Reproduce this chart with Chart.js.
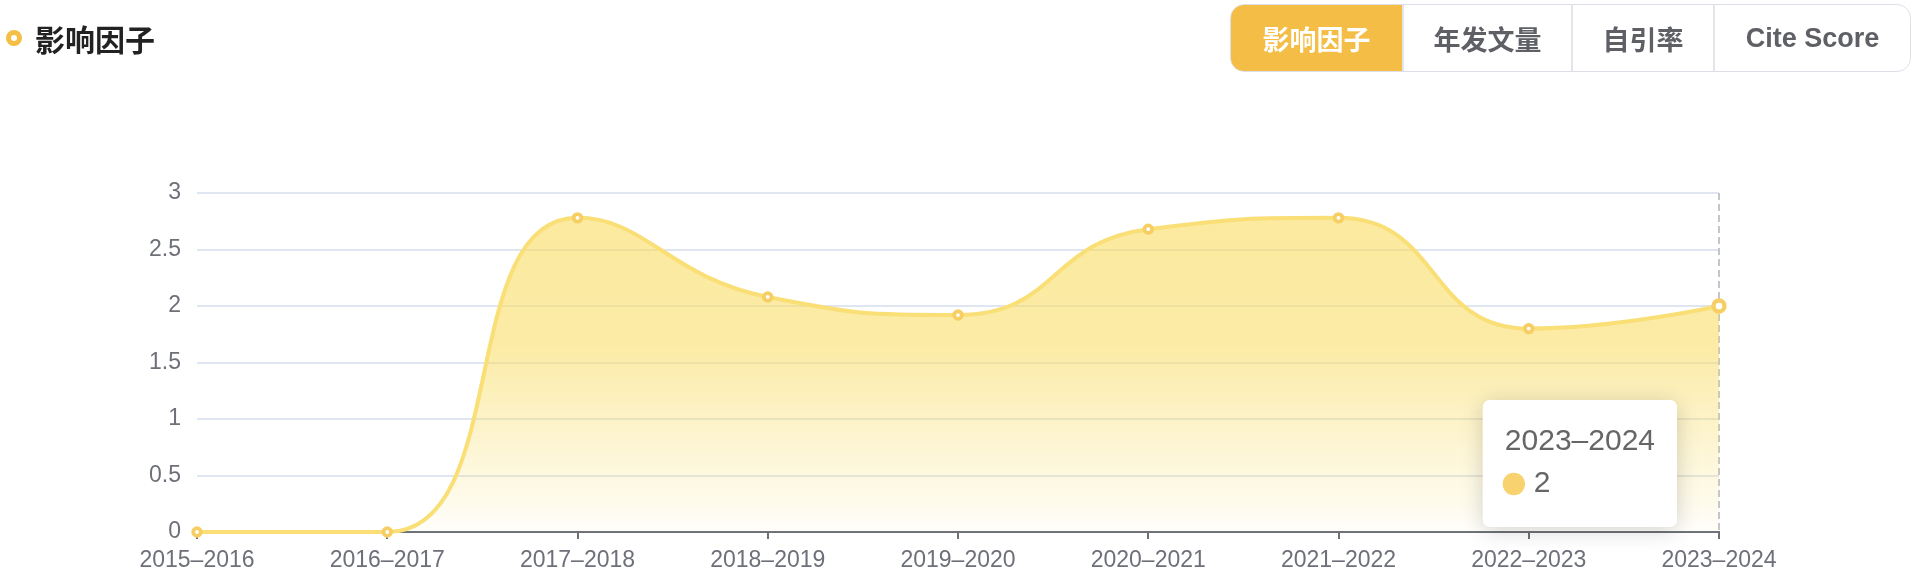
<!DOCTYPE html>
<html>
<head>
<meta charset="utf-8">
<script src="https://cdn.jsdelivr.net/npm/chart.js@4"></script>
<style>
  html, body { margin:0; padding:0; background:#fff; width:1922px; height:580px; overflow:hidden; font-family:"Liberation Sans","Noto Sans CJK SC",sans-serif; }
  #wrap { position:relative; width:1922px; height:580px; }
  #chart { position:absolute; left:0; top:0; }
  .title { position:absolute; left:6px; top:16px; height:44px; display:flex; align-items:center; font-family:"Noto Sans CJK SC",sans-serif; font-weight:700; font-size:30px; color:#222; }
  .dot { width:6px; height:6px; border:5.5px solid #F5BE45; border-radius:50%; margin-right:13px; box-sizing:content-box; background:#fff; }
  .btns { position:absolute; left:1230px; top:4px; height:66px; display:flex; border:1px solid #DCDFE6; border-radius:14px; overflow:hidden; }
  .btn { height:66px; display:flex; align-items:center; justify-content:center; font-size:27px; font-weight:600; color:#5E6066; border-left:2px solid #E3E5EA; box-sizing:border-box; font-family:"Liberation Sans","Noto Sans CJK SC",sans-serif; }
  .btn.active { background:#F4BD45; color:#fff; border-left:none; }
</style>
</head>
<body>
<div id="wrap">
  <canvas id="chart" width="1922" height="580"></canvas>
  <div class="title"><span class="dot"></span>影响因子</div>
  <div class="btns">
    <div class="btn active" style="width:171px">影响因子</div>
    <div class="btn" style="width:169px">年发文量</div>
    <div class="btn" style="width:142px">自引率</div>
    <div class="btn" style="width:197px">Cite Score</div>
  </div>
</div>
<script>
const categories = ["2015–2016","2016–2017","2017–2018","2018–2019","2019–2020","2020–2021","2021–2022","2022–2023","2023–2024"];
const impactFactor = [0, 0, 2.78, 2.08, 1.92, 2.68, 2.78, 1.8, 2];
const yTicks = [0, 0.5, 1, 1.5, 2, 2.5, 3];
const activeIndex = 8;

const FONT = '"Liberation Sans","Noto Sans CJK SC",sans-serif';

Chart.Tooltip.positioners.custom = function(items) {
  if (!items.length) return false;
  const el = items[0].element;
  return { x: el.x - 50, y: el.y + 94 };
};

// ECharts-style smoothing (smooth = 0.5, clamped to avoid overshoot),
// applied to the control points of Chart.js's own line element.
const smoothCurve = {
  id: 'smoothCurve',
  beforeDatasetsDraw(chart) {
    const smooth = 0.5;
    chart.getSortedVisibleDatasetMetas().forEach(meta => {
      const line = meta.dataset;
      if (!line) return;
      line.updateControlPoints(chart.chartArea, 'x');
      const pts = meta.data;
      const n = pts.length;
      const mn = Math.min, mx = Math.max;
      let prevX, prevY;
      for (let k = 0; k < n; k++) {
        const p = pts[k];
        const x = p.x, y = p.y;
        if (k === 0 || k === n - 1) {
          p.cp1x = x; p.cp1y = y; p.cp2x = x; p.cp2y = y;
        } else {
          const nextX = pts[k + 1].x, nextY = pts[k + 1].y;
          let vx = nextX - prevX, vy = nextY - prevY;
          const dx0 = x - prevX, dx1 = nextX - x, dy0 = y - prevY, dy1 = nextY - y;
          const lenPrev = Math.sqrt(dx0 * dx0 + dy0 * dy0);
          const lenNext = Math.sqrt(dx1 * dx1 + dy1 * dy1);
          const ratio = lenNext / (lenNext + lenPrev);
          let ncx = x + vx * smooth * ratio;
          let ncy = y + vy * smooth * ratio;
          ncx = mx(mn(ncx, mx(nextX, x)), mn(nextX, x));
          ncy = mx(mn(ncy, mx(nextY, y)), mn(nextY, y));
          vx = ncx - x; vy = ncy - y;
          let c1x = x - vx * lenPrev / lenNext;
          let c1y = y - vy * lenPrev / lenNext;
          c1x = mx(mn(c1x, mx(prevX, x)), mn(prevX, x));
          c1y = mx(mn(c1y, mx(prevY, y)), mn(prevY, y));
          vx = x - c1x; vy = y - c1y;
          ncx = x + vx * lenNext / lenPrev;
          ncy = y + vy * lenNext / lenPrev;
          p.cp1x = c1x; p.cp1y = c1y; p.cp2x = ncx; p.cp2y = ncy;
        }
        prevX = x; prevY = y;
      }
    });
  }
};

const hoverLine = {
  id: 'hoverLine',
  beforeDatasetsDraw(chart) {
    const x = chart.scales.x.getPixelForValue(activeIndex);
    const a = chart.chartArea;
    const ctx = chart.ctx;
    ctx.save();
    ctx.strokeStyle = '#B4B8C0';
    ctx.lineWidth = 1.6;
    ctx.setLineDash([7, 4]);
    ctx.beginPath();
    ctx.moveTo(x, a.top);
    ctx.lineTo(x, a.bottom);
    ctx.stroke();
    ctx.restore();
  }
};

const tooltipShadow = {
  id: 'tooltipShadow',
  beforeTooltipDraw(chart, args) {
    const t = args.tooltip;
    if (!t || !t.opacity) return;
    const ctx = chart.ctx;
    ctx.save();
    ctx.shadowColor = 'rgba(0,0,0,0.18)';
    ctx.shadowBlur = 22;
    ctx.shadowOffsetY = 3;
    ctx.fillStyle = '#fff';
    ctx.beginPath();
    ctx.roundRect(t.x, t.y, t.width, t.height, 8);
    ctx.fill();
    ctx.restore();
  }
};

const chart = new Chart(document.getElementById('chart'), {
  type: 'line',
  data: {
    labels: categories,
    datasets: [{
      label: '影响因子',
      data: impactFactor,
      borderColor: '#F9DF76',
      borderWidth: 4,
      cubicInterpolationMode: 'monotone',
      capBezierPoints: false,
      fill: 'origin',
      backgroundColor: (ctx) => {
        const a = ctx.chart.chartArea;
        if (!a) return 'rgba(249,221,95,0.5)';
        const g = ctx.chart.ctx.createLinearGradient(0, a.top, 0, a.bottom);
        g.addColorStop(0, 'rgba(248,219,92,0.6)');
        g.addColorStop(0.45, 'rgba(248,219,92,0.55)');
        g.addColorStop(1, 'rgba(248,219,92,0.03)');
        return g;
      },
      pointRadius: 3.8,
      pointBorderWidth: 3.8,
      pointBackgroundColor: '#fff',
      pointBorderColor: '#F6CE63',
      pointHoverRadius: 5.5,
      pointHoverBorderWidth: 4.3,
      pointHoverBackgroundColor: '#fff',
      pointHoverBorderColor: '#F6CE63',
      clip: false
    }]
  },
  options: {
    responsive: false,
    animation: false,
    events: [],
    layout: { padding: { left: 0, right: 203, top: 193, bottom: 0 } },
    plugins: {
      legend: { display: false },
      tooltip: {
        enabled: true,
        position: 'custom',
        xAlign: 'right',
        yAlign: 'top',
        caretSize: 0,
        caretPadding: 0,
        backgroundColor: '#fff',
        titleColor: '#666',
        bodyColor: '#666',
        titleFont: { family: FONT, size: 30, weight: 'normal' },
        bodyFont: { family: FONT, size: 30 },
        padding: { top: 24, bottom: 25, left: 22, right: 22 },
        titleMarginBottom: 6,
        cornerRadius: 8,
        displayColors: true,
        usePointStyle: true,
        boxWidth: 18,
        boxHeight: 18,
        boxPadding: 9,
        callbacks: {
          label: (c) => String(c.parsed.y),
          labelColor: () => ({ borderColor: '#F8D26F', backgroundColor: '#F8D26F' }),
          labelPointStyle: () => ({ pointStyle: 'circle', rotation: 0 })
        }
      }
    },
    scales: {
      x: {
        type: 'category',
        offset: false,
        afterFit: (s) => { s.height = 48; },
        grid: { drawOnChartArea: false, drawTicks: true, tickLength: 7, color: '#6E7079', lineWidth: 2 },
        border: { color: '#6E7079', width: 2 },
        ticks: { color: '#6E7079', font: { family: FONT, size: 23 }, padding: 8, maxRotation: 0, autoSkip: false }
      },
      y: {
        min: 0,
        max: 3,
        afterFit: (s) => { s.width = 197; },
        afterBuildTicks: (s) => { s.ticks = yTicks.map(v => ({ value: v })); },
        grid: { color: '#E0E6F1', lineWidth: 2, drawTicks: false },
        border: { display: false },
        ticks: { color: '#6E7079', font: { family: FONT, size: 23 }, padding: 16, callback: (v) => String(v) }
      }
    }
  },
  plugins: [smoothCurve, hoverLine, tooltipShadow]
});

const act = [{ datasetIndex: 0, index: activeIndex }];
chart.setActiveElements(act);
chart.tooltip.setActiveElements(act, { x: 0, y: 0 });
chart.update();
</script>
</body>
</html>
